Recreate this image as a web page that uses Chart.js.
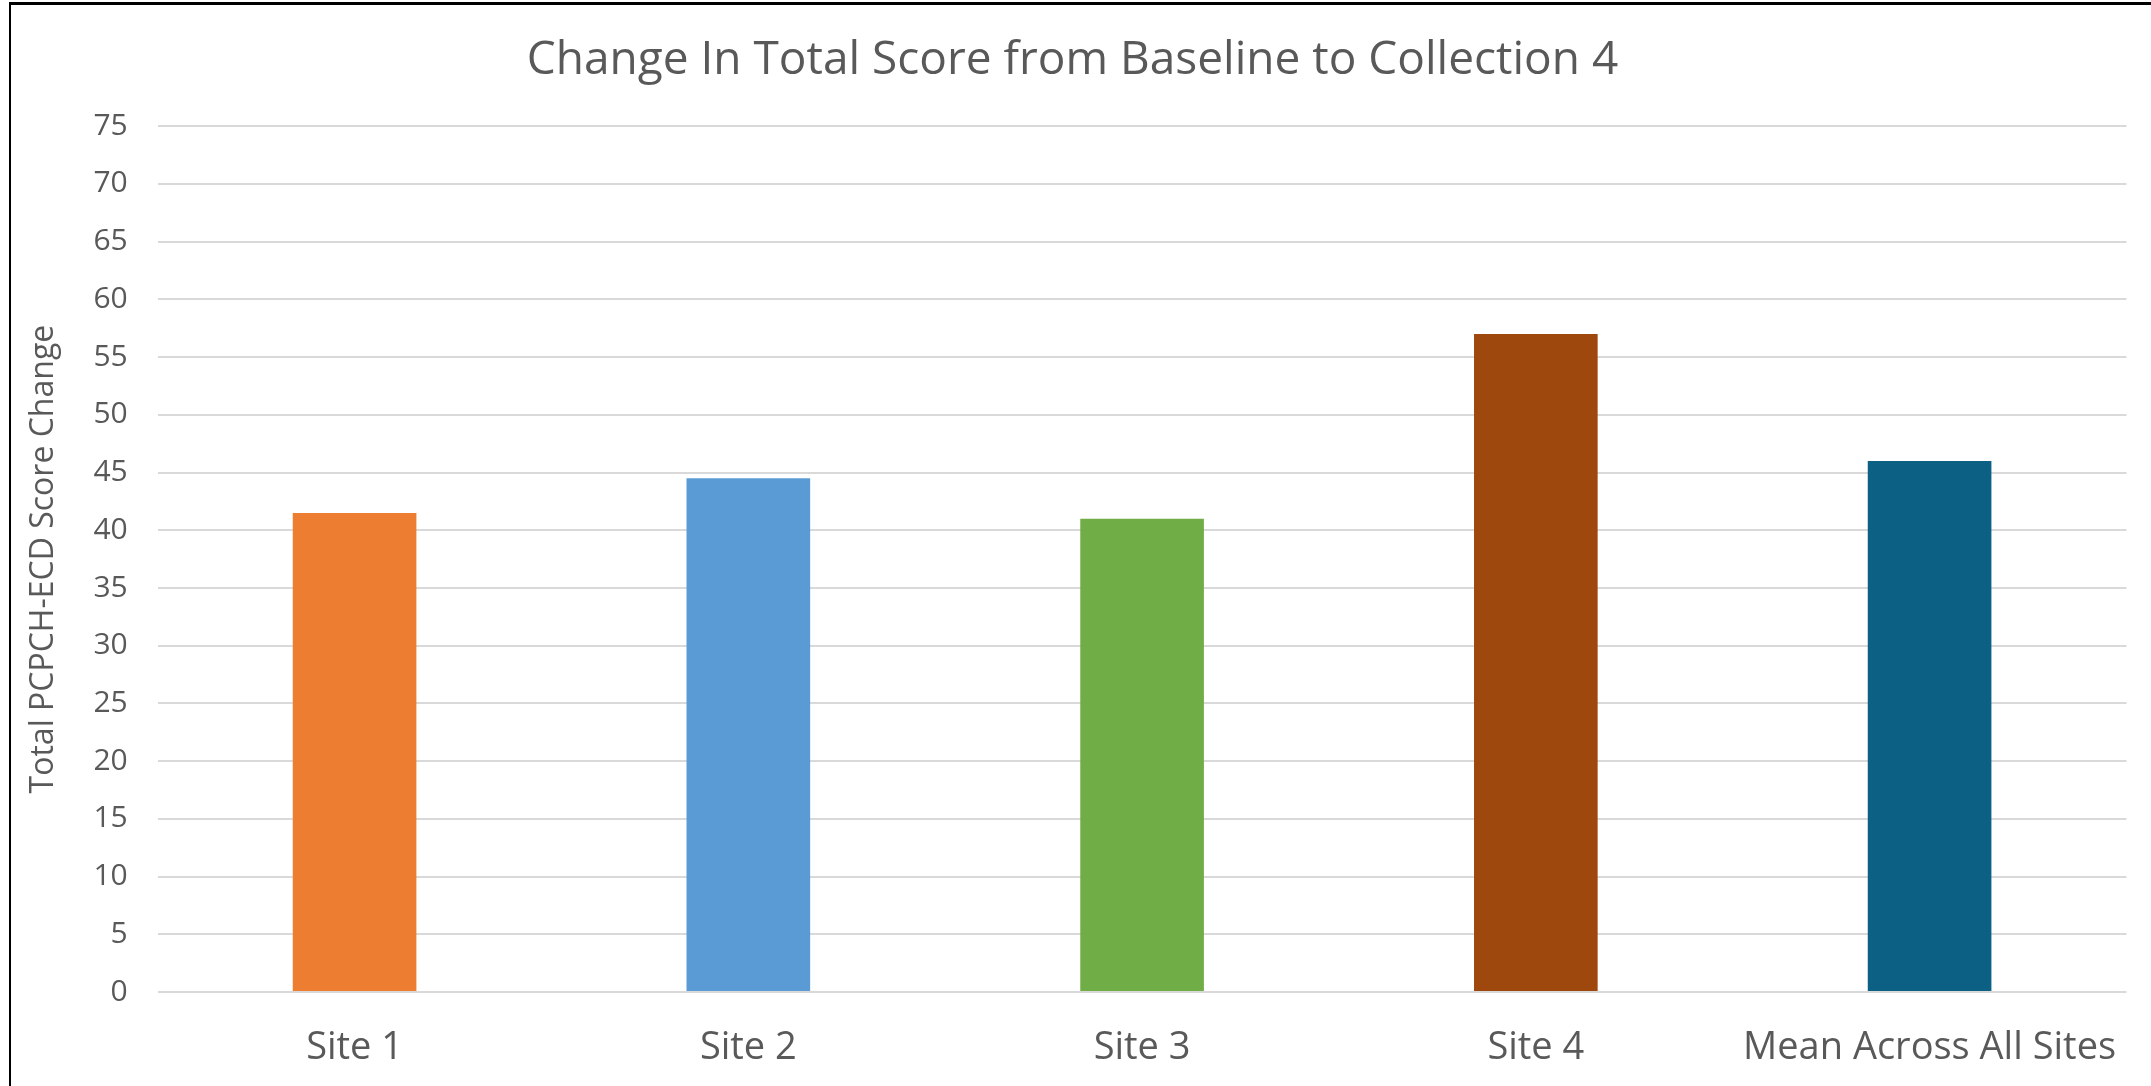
<!DOCTYPE html>
<html>
<head>
<meta charset="utf-8">
<title>Change In Total Score from Baseline to Collection 4</title>
<script src="https://cdn.jsdelivr.net/npm/chart.js@4.4.1/dist/chart.umd.min.js"></script>
<style>
    html, body { margin: 0; padding: 0; background: #fff; }
    #wrap { position: relative; width: 2151px; height: 1086px; overflow: hidden; }
    #frame-top { position: absolute; left: 9px; top: 2px; width: 2142px; height: 3px; background: #000; }
    #frame-left { position: absolute; left: 9px; top: 2px; width: 2px; height: 1084px; background: #000; }
    canvas { position: absolute; left: 0; top: 0; }
</style>
</head>
<body>
<div id="wrap">
    <canvas id="chart" width="2151" height="1086"></canvas>
    <div id="frame-top"></div>
    <div id="frame-left"></div>
</div>
<script>
/* Change In Total Score from Baseline to Collection 4 */

// Categories and values
var sites      = ['Site 1', 'Site 2', 'Site 3', 'Site 4', 'Mean Across All Sites'];
var scoreDelta = [41.5, 44.5, 41, 57, 46];
var barColors  = ['#ED7D31', '#5B9BD5', '#70AD47', '#9E480E', '#0B6083'];
var yTicks     = [0, 5, 10, 15, 20, 25, 30, 35, 40, 45, 50, 55, 60, 65, 70, 75];

var FONT = '"Open Sans", "Noto Sans", sans-serif';
var GREY = '#595959';

(function () {
    'use strict';

    var ctx = document.getElementById('chart');

    new Chart(ctx, {
        type: 'bar',
        data: {
            labels: sites,
            datasets: [{
                data:            scoreDelta,
                backgroundColor: barColors,
                borderWidth:     0,
                categoryPercentage: 1,
                barPercentage:   0.314,
            }],
        },
        options: {
            responsive: false,
            animation:  false,
            layout: { padding: { left: 13, right: 19, top: 33, bottom: 0 } },
            plugins: {
                legend:  { display: false },
                tooltip: { enabled: false },
                title: {
                    display: true,
                    text:    'Change In Total Score from Baseline to Collection 4',
                    color:   GREY,
                    font:    { family: FONT, size: 46, weight: 'normal' },
                    padding: { top: 0, bottom: 38 },
                },
            },
            scales: {
                x: {
                    grid:   { display: false, drawTicks: false },
                    border: { display: false },
                    ticks: {
                        color:   GREY,
                        font:    { family: FONT, size: 38 },
                        padding: 33,
                        maxRotation: 0,
                        autoSkip: false,
                    },
                    // fit() counts the tick padding twice; pin the axis band height instead
                    afterFit: function (axis) {
                        axis.height = 94;
                    },
                },
                y: {
                    min: 0,
                    max: 75,
                    afterBuildTicks: function (axis) {
                        axis.ticks = yTicks.map(function (v) { return { value: v }; });
                    },
                    grid:   { color: '#D9D9D9', lineWidth: 2, drawTicks: false },
                    border: { display: false },
                    ticks: {
                        color:   GREY,
                        font:    { family: FONT, size: 30 },
                        padding: 30,
                    },
                    title: {
                        display: true,
                        text:    'Total PCPCH-ECD Score Change',
                        color:   GREY,
                        font:    { family: FONT, size: 32 },
                        padding: { top: 12, bottom: 0 },
                    },
                },
            },
        },
    });
}());
</script>
</body>
</html>
